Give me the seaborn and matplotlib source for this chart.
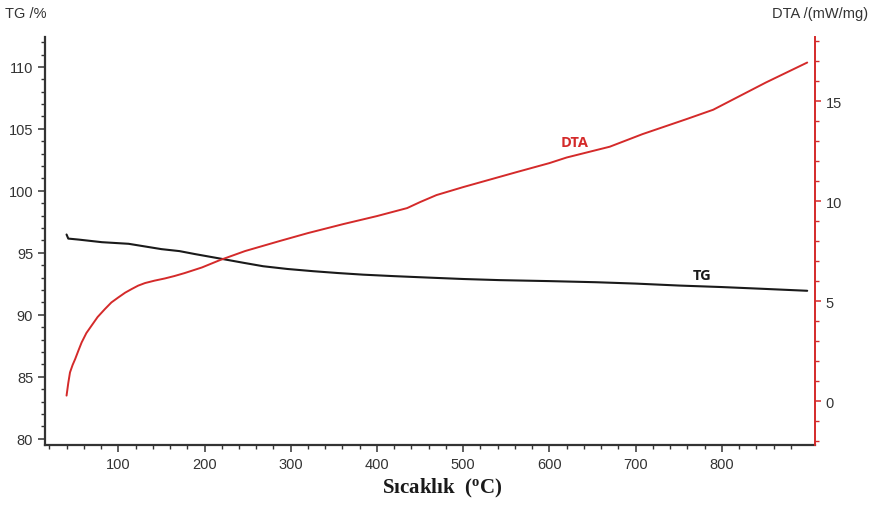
import numpy as np
import pandas as pd
import matplotlib
matplotlib.use("Agg")
import matplotlib.pyplot as plt
from matplotlib.ticker import FixedLocator, MultipleLocator
import seaborn as sns

# TG curve (left axis, %)
tg_temp = [40, 42, 54, 81, 112, 150, 171, 189, 218, 245, 268, 296, 326, 355,
           384, 420, 461, 500, 542, 600, 654, 700, 751, 800, 847, 899]
tg_mass = [96.48, 96.15, 96.07, 95.86, 95.73, 95.3, 95.14, 94.9, 94.54, 94.2,
           93.92, 93.7, 93.52, 93.37, 93.24, 93.12, 93.0, 92.89, 92.8, 92.72,
           92.63, 92.52, 92.36, 92.24, 92.1, 91.94]

# DTA curve (right axis, mW/mg)
dta_temp = [40, 42, 44, 47, 50, 54, 57.5, 63, 69, 76, 84.5, 92, 100, 108,
            115.5, 123, 131, 142, 154, 165, 177, 197, 218, 247, 287, 320, 361,
            400, 435, 450, 469, 500, 562, 600, 620, 670, 708, 759, 790, 816,
            851, 899]
dta_signal = [0.27, 0.9, 1.43, 1.8, 2.1, 2.55, 2.93, 3.4, 3.77, 4.2, 4.6, 4.93,
              5.18, 5.42, 5.6, 5.77, 5.9, 6.02, 6.13, 6.25, 6.4, 6.68, 7.05,
              7.5, 8.0, 8.4, 8.85, 9.25, 9.65, 9.95, 10.3, 10.7, 11.45, 11.9,
              12.18, 12.72, 13.35, 14.1, 14.57, 15.15, 15.93, 16.93]

# tick positions on the temperature axis
x_major = [100, 200, 300, 400, 500, 600, 700, 800]
x_minor = [20, 40, 60, 80, 120, 140, 160, 180, 220, 240, 260, 280, 320, 340,
           360, 380, 420, 440, 460, 480, 520, 540, 560, 580, 620, 640, 660,
           680, 720, 740, 760, 780, 820, 840, 860, 880]

RED = "#d42a2a"

sns.set_style("ticks")
plt.rcParams["font.family"] = ["Liberation Sans", "DejaVu Sans"]
plt.rcParams["mathtext.fontset"] = "custom"
plt.rcParams["mathtext.bf"] = "Liberation Serif:bold"
plt.rcParams["mathtext.rm"] = "Liberation Serif:bold"

fig = plt.figure(figsize=(8.72, 5.06), dpi=100)
ax = fig.add_axes([0.0516, 0.1186, 0.883, 0.806])
ax2 = ax.twinx()

df_tg = pd.DataFrame({"T": tg_temp, "TG": tg_mass})
df_dta = pd.DataFrame({"T": dta_temp, "DTA": dta_signal})
sns.lineplot(data=df_tg, x="T", y="TG", ax=ax, color="#1a1a1a", lw=1.5)
sns.lineplot(data=df_dta, x="T", y="DTA", ax=ax2, color=RED, lw=1.4)

ax.set_xlim(15, 908)
ax.set_ylim(79.5, 112.4)
ax2.set_ylim(-2.2, 18.2)

ax.xaxis.set_major_locator(FixedLocator(x_major))
ax.xaxis.set_minor_locator(FixedLocator(x_minor))
ax.yaxis.set_major_locator(MultipleLocator(5))
ax.yaxis.set_minor_locator(MultipleLocator(1))
ax2.yaxis.set_major_locator(MultipleLocator(5))
ax2.yaxis.set_minor_locator(MultipleLocator(1))

for a in (ax, ax2):
    a.spines["top"].set_visible(False)
    a.set_xlabel("")
    a.set_ylabel("")
ax.spines["right"].set_visible(False)
ax.spines["left"].set_color("#333333")
ax.spines["bottom"].set_color("#333333")
for s in ("left", "bottom"):
    ax.spines[s].set_linewidth(1.6)
ax2.spines["left"].set_visible(False)
ax2.spines["bottom"].set_visible(False)
ax2.spines["right"].set_color(RED)
ax2.spines["right"].set_linewidth(1.4)

ax.tick_params(which="major", length=5, width=1.1, color="#333333",
               labelsize=10.5, labelcolor="#333333")
ax.tick_params(which="minor", length=3, width=1.0, color="#333333")
ax2.tick_params(which="major", length=4, width=1.1, color=RED,
                labelsize=10.5, labelcolor="#333333")
ax2.tick_params(which="minor", length=3, width=1.0, color=RED)

ax.xaxis.set_major_formatter(matplotlib.ticker.FuncFormatter(lambda v, p: f"{v:.0f}"))

fig.text(0.006, 0.972, "TG /%", fontsize=10.5, color="#333333", va="center")
fig.text(0.996, 0.972, "DTA /(mW/mg)", fontsize=10.5, color="#333333",
         va="center", ha="right")
fig.text(0.507, 0.035, r"Sıcaklık  ($\mathbf{^{o}}$C)", fontsize=15,
         fontweight="bold", family="Liberation Serif", ha="center",
         va="center", color="#1a1a1a")

ax2.text(629, 12.95, "DTA", color=RED, fontsize=10.5, fontweight="bold",
         family="Open Sans", ha="center", va="center")
ax.text(777, 93.2, "TG", color="#1a1a1a", fontsize=10.5, fontweight="bold",
        family="Open Sans", ha="center", va="center")

fig.savefig("out.png", dpi=100)
